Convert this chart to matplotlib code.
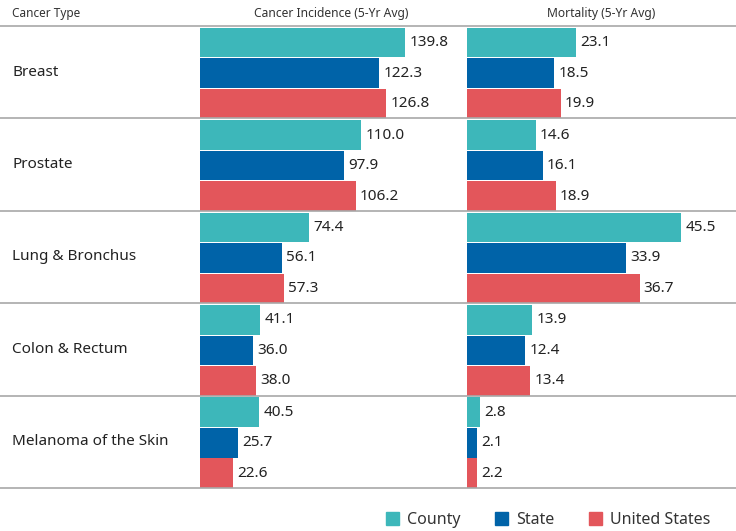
import matplotlib
matplotlib.use('Agg')
import matplotlib.pyplot as plt
from matplotlib.patches import Patch
from matplotlib.lines import Line2D

# data
cancer_types = ["Breast", "Prostate", "Lung & Bronchus", "Colon & Rectum", "Melanoma of the Skin"]
series_names = ["County", "State", "United States"]
incidence_county = [139.8, 110.0, 74.4, 41.1, 40.5]
incidence_state = [122.3, 97.9, 56.1, 36.0, 25.7]
incidence_us = [126.8, 106.2, 57.3, 38.0, 22.6]
mortality_county = [23.1, 14.6, 45.5, 13.9, 2.8]
mortality_state = [18.5, 16.1, 33.9, 12.4, 2.1]
mortality_us = [19.9, 18.9, 36.7, 13.4, 2.2]

colors = ["#3DB7BA", "#0063A8", "#E3565B"]
plt.rcParams['font.family'] = ['Noto Sans', 'DejaVu Sans']

W, H = 736, 531
fig = plt.figure(figsize=(W / 100, H / 100), dpi=100)

top, bottom = 26, 488   # pixel rows of header line and last separator


def px_axes(x0, x1):
    return fig.add_axes([x0 / W, (H - bottom) / H, (x1 - x0) / W, (bottom - top) / H])


def draw_panel(ax, series, xmax):
    offsets = [-0.32, 0.01, 0.34]
    for vals, off, c in zip(series, offsets, colors):
        ys = [i + off for i in range(len(vals))]
        ax.barh(ys, vals, height=0.32, color=c)
        for y, v in zip(ys, vals):
            ax.annotate(f"{v:.1f}", (v, y), xytext=(3, 0), textcoords='offset points',
                        va='center', ha='left', fontsize=11, color='#222222')
    ax.set_xlim(0, xmax)
    ax.set_ylim(len(cancer_types) - 0.5, -0.5)
    ax.axis('off')


ax1 = px_axes(200, 462)
draw_panel(ax1, [incidence_county, incidence_state, incidence_us], 178.6)
ax2 = px_axes(467, 736)
draw_panel(ax2, [mortality_county, mortality_state, mortality_us], 57.2)

# header
fig.text(12 / W, 1 - 13 / H, "Cancer Type", fontsize=8.5, va='center', ha='left', color='#333333')
fig.text(331 / W, 1 - 13 / H, "Cancer Incidence (5-Yr Avg)", fontsize=8.7, va='center', ha='center', color='#333333')
fig.text(601 / W, 1 - 13 / H, "Mortality (5-Yr Avg)", fontsize=8.7, va='center', ha='center', color='#333333')

# row separators and category labels
row_h = (bottom - top) / len(cancer_types)
for i in range(len(cancer_types) + 1):
    yp = top + i * row_h
    fig.add_artist(Line2D([0, 1], [1 - yp / H, 1 - yp / H], color='#A8A8A8', lw=1.2))
for i, name in enumerate(cancer_types):
    yc = top + (i + 0.5) * row_h
    fig.text(12 / W, 1 - yc / H, name, fontsize=11, va='center', ha='left', color='#222222')

# legend
handles = [Patch(color=c, label=n) for c, n in zip(colors, series_names)]
fig.legend(handles=handles, loc='center right', bbox_to_anchor=(0.985, 1 - 520 / H), ncol=3,
           frameon=False, fontsize=11.5, handlelength=0.8, handleheight=0.8,
           handletextpad=0.5, columnspacing=2.2, labelcolor='#333333')

fig.savefig("out.png", dpi=100)
